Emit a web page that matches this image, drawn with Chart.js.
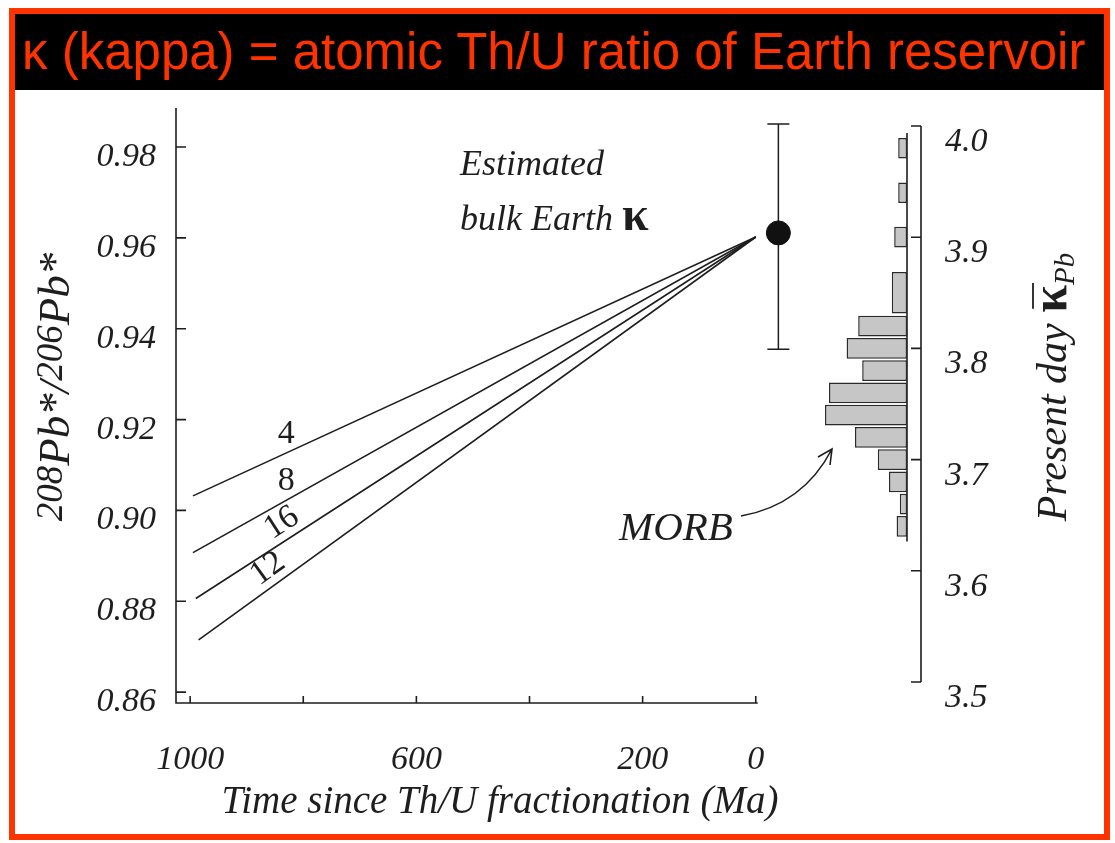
<!DOCTYPE html>
<html lang="en">
<head>
<meta charset="utf-8">
<title>kappa - atomic Th/U ratio of Earth reservoir</title>
<script src="https://cdn.jsdelivr.net/npm/chart.js@4.4.1/dist/chart.umd.min.js"></script>
<style>
  html, body { margin: 0; padding: 0; background: #fff; }
  #page { position: relative; width: 1115px; height: 843px; overflow: hidden; background: #fff; }
  #frame { position: absolute; left: 9px; top: 8px; width: 1089px; height: 820px; border: 6px solid #ff3300; }
  #header { position: absolute; left: 15px; top: 14px; width: 1089px; height: 76px; background: #000; }
  #header h1 { margin: 0; padding-left: 7px; color: #ff3300; font: normal 51px/76px 'Liberation Sans', Arial, sans-serif; white-space: nowrap; }
  canvas { position: absolute; left: 0; top: 0; }
</style>
</head>
<body>
<div id="page">
  <div id="frame"></div>
  <div id="header"><h1>κ (kappa) = atomic Th/U ratio of Earth reservoir</h1></div>
  <canvas id="mainChart" width="1115" height="843"></canvas>
  <canvas id="histChart" width="1115" height="843"></canvas>
</div>
<script>
// Pb evolution lines, one per time-integrated kappa
const lineKappa = ['4', '8', '16', '12'];
const lineStartMa = [995, 995, 990, 985];
const lineStartRatio = [0.9032, 0.8907, 0.8806, 0.8715];
const lineEndMa = [0, 0, 0, 0];
const lineEndRatio = [0.9602, 0.9602, 0.9602, 0.9602];
const lineLabelMa = [830, 830, 822, 845];
const lineLabelTilted = [false, false, true, true];

// estimated bulk Earth kappa (with error bar)
const bulkMa = [-40];
const bulkRatio = [0.9611];
const bulkLow = [0.9355];
const bulkHigh = [0.9851];

// present day MORB kappa histogram
const kappaBins = [3.98, 3.94, 3.90, 3.85, 3.82, 3.80, 3.78, 3.76, 3.74, 3.72, 3.70, 3.68, 3.66, 3.64];
const binWidth = [0.02, 0.02, 0.02, 0.04, 0.02, 0.02, 0.02, 0.02, 0.02, 0.02, 0.02, 0.02, 0.02, 0.02];
const morbCounts = [2.2, 2.2, 3.2, 3.8, 12.2, 15.1, 11.2, 19.5, 20.5, 13, 7.3, 4.5, 1.8, 2.6];

// axes
const ratioTicks = [0.86, 0.88, 0.90, 0.92, 0.94, 0.96, 0.98];
const timeTicks = [1000, 800, 600, 400, 200, 0];
const timeLabels = [1000, 600, 200, 0];
const kappaTicks = [3.5, 3.6, 3.7, 3.8, 3.9, 4.0];

const INK = '#1e1e1e';
const SERIF = "'Liberation Serif', 'DejaVu Serif', serif";

// text made of pieces with different fonts (super/subscripts)
function richWidth(ctx, parts) {
    let w = 0;
    parts.forEach(p => { ctx.font = p.font; w += ctx.measureText(p.t).width; });
    return w;
}
function drawRich(ctx, parts, x, y) {
    let cx = x;
    const pos = [];
    parts.forEach(p => {
        ctx.font = p.font;
        ctx.fillText(p.t, cx, y + (p.dy || 0));
        const w = ctx.measureText(p.t).width;
        pos.push({ x: cx, w: w });
        cx += w;
    });
    return pos;
}

const paperAxes = {
    id: 'paperAxes',
    beforeDatasetsDraw(chart) {
        const { ctx, chartArea: a, scales: { x, y } } = chart;
        ctx.save();
        ctx.strokeStyle = INK;
        ctx.lineWidth = 1.6;
        ctx.beginPath();
        ctx.moveTo(a.left, a.top);
        ctx.lineTo(a.left, a.bottom);
        ctx.lineTo(x.getPixelForValue(0) + 2, a.bottom);
        ratioTicks.forEach(v => {
            const p = y.getPixelForValue(v);
            ctx.moveTo(a.left, p);
            ctx.lineTo(a.left + 10, p);
        });
        timeTicks.forEach(v => {
            const p = x.getPixelForValue(v);
            ctx.moveTo(p, a.bottom);
            ctx.lineTo(p, a.bottom - 7);
        });
        ctx.stroke();

        // error bar behind the bulk Earth dot
        ctx.lineWidth = 1.5;
        bulkMa.forEach((m, i) => {
            const px = x.getPixelForValue(m);
            const lo = y.getPixelForValue(bulkLow[i]);
            const hi = y.getPixelForValue(bulkHigh[i]);
            ctx.beginPath();
            ctx.moveTo(px, hi); ctx.lineTo(px, lo);
            ctx.moveTo(px - 11, hi); ctx.lineTo(px + 11, hi);
            ctx.moveTo(px - 11, lo); ctx.lineTo(px + 11, lo);
            ctx.stroke();
        });
        ctx.restore();
    },
    afterDraw(chart) {
        const { ctx, scales: { x, y } } = chart;
        ctx.save();
        ctx.fillStyle = INK;
        ctx.strokeStyle = INK;

        // kappa labels sitting on the lines
        ctx.font = '34px ' + SERIF;
        ctx.textAlign = 'center';
        ctx.textBaseline = 'middle';
        lineKappa.forEach((k, i) => {
            const f = (lineLabelMa[i] - lineStartMa[i]) / (lineEndMa[i] - lineStartMa[i]);
            const v = lineStartRatio[i] + f * (lineEndRatio[i] - lineStartRatio[i]);
            const px = x.getPixelForValue(lineLabelMa[i]);
            const py = y.getPixelForValue(v);
            if (lineLabelTilted[i]) {
                const ang = Math.atan2(
                    y.getPixelForValue(lineEndRatio[i]) - y.getPixelForValue(lineStartRatio[i]),
                    x.getPixelForValue(lineEndMa[i]) - x.getPixelForValue(lineStartMa[i]));
                ctx.save();
                ctx.translate(px, py);
                ctx.rotate(ang);
                ctx.fillText(k, 0, -17);
                ctx.restore();
            } else {
                ctx.fillText(k, px, py - 19);
            }
        });

        // x axis title
        ctx.font = 'italic 39px ' + SERIF;
        ctx.fillText('Time since Th/U fractionation (Ma)', 500, 803);

        // y axis title, reads bottom to top
        ctx.textAlign = 'left';
        ctx.textBaseline = 'alphabetic';
        const yTitle = [
            { t: '208', font: 'italic 37px ' + SERIF, dy: -7 },
            { t: 'Pb*/', font: 'italic 45px ' + SERIF },
            { t: '206', font: 'italic 37px ' + SERIF, dy: -7 },
            { t: 'Pb*', font: 'italic 45px ' + SERIF }
        ];
        ctx.save();
        ctx.translate(69, 387);
        ctx.rotate(-Math.PI / 2);
        drawRich(ctx, yTitle, -richWidth(ctx, yTitle) / 2, 0);
        ctx.restore();

        // right axis title
        const rTitle = [
            { t: 'Present day ', font: 'italic 42px ' + SERIF },
            { t: 'κ', font: 'bold 50px ' + SERIF },
            { t: 'Pb', font: 'italic 29px ' + SERIF, dy: 8 }
        ];
        ctx.save();
        ctx.translate(1066, 387);
        ctx.rotate(-Math.PI / 2);
        const pos = drawRich(ctx, rTitle, -richWidth(ctx, rTitle) / 2, 0);
        ctx.lineWidth = 1.8;
        ctx.beginPath();
        ctx.moveTo(pos[1].x + 4, -33);
        ctx.lineTo(pos[1].x + pos[1].w + 2, -33);
        ctx.stroke();
        ctx.restore();

        // bulk Earth note
        ctx.font = 'italic 36px ' + SERIF;
        ctx.fillText('Estimated', 460, 175);
        drawRich(ctx, [
            { t: 'bulk Earth ', font: 'italic 36px ' + SERIF },
            { t: 'κ', font: 'bold 48px ' + SERIF }
        ], 460, 230);

        // MORB note and arrow
        ctx.font = 'italic 41px ' + SERIF;
        ctx.fillText('MORB', 619, 540);
        ctx.lineWidth = 1.6;
        ctx.beginPath();
        ctx.moveTo(741, 516);
        ctx.quadraticCurveTo(803, 505, 832, 449);
        ctx.moveTo(818, 457);
        ctx.lineTo(832, 449);
        ctx.lineTo(830, 465);
        ctx.stroke();
        ctx.restore();
    }
};

const lineSets = lineKappa.map((k, i) => ({
    type: 'line',
    label: 'kappa ' + k,
    data: [{ x: lineStartMa[i], y: lineStartRatio[i] }, { x: lineEndMa[i], y: lineEndRatio[i] }],
    borderColor: INK,
    borderWidth: 1.6,
    pointRadius: 0,
    fill: false
}));

new Chart(document.getElementById('mainChart'), {
    type: 'scatter',
    data: {
        datasets: [
            ...lineSets,
            {
                type: 'scatter',
                label: 'Estimated bulk Earth kappa',
                data: bulkMa.map((m, i) => ({ x: m, y: bulkRatio[i] })),
                pointRadius: 12,
                backgroundColor: '#111',
                borderColor: '#111'
            }
        ]
    },
    options: {
        responsive: false,
        animation: false,
        layout: { padding: { left: 0, top: 108, right: 314, bottom: 0 } },
        plugins: { legend: { display: false }, tooltip: { enabled: false } },
        scales: {
            x: {
                type: 'linear',
                reverse: true,
                min: -80,
                max: 1025,
                grid: { display: false, drawTicks: false },
                border: { display: false },
                afterBuildTicks: s => { s.ticks = timeTicks.map(v => ({ value: v })); },
                afterFit: s => { s.height = 140; },
                ticks: {
                    autoSkip: false,
                    maxRotation: 0,
                    padding: 37,
                    color: INK,
                    font: { family: SERIF, size: 34, style: 'italic' },
                    callback: v => timeLabels.includes(v) ? String(v) : ''
                }
            },
            y: {
                type: 'linear',
                min: 0.8576,
                max: 0.9886,
                grid: { display: false, drawTicks: false },
                border: { display: false },
                afterBuildTicks: s => { s.ticks = ratioTicks.map(v => ({ value: v })); },
                afterFit: s => { s.width = 176; },
                ticks: {
                    padding: 20,
                    labelOffset: 10,
                    color: INK,
                    font: { family: SERIF, size: 34, style: 'italic' },
                    callback: v => v.toFixed(2)
                }
            }
        }
    },
    plugins: [paperAxes]
});

// histogram: right axis line, inward ticks and the zero line behind the bars
const histAxes = {
    id: 'histAxes',
    beforeDatasetsDraw(chart) {
        const { ctx, chartArea: a, scales: { x, y } } = chart;
        ctx.save();
        ctx.strokeStyle = INK;
        ctx.lineWidth = 1.6;
        ctx.beginPath();
        ctx.moveTo(a.right, a.top);
        ctx.lineTo(a.right, a.bottom);
        kappaTicks.forEach(v => {
            const p = y.getPixelForValue(v);
            ctx.moveTo(a.right, p);
            ctx.lineTo(a.right - 10, p);
        });
        const x0 = x.getPixelForValue(0);
        const topK = Math.max(...kappaBins.map((k, i) => k + binWidth[i] / 2));
        const botK = Math.min(...kappaBins.map((k, i) => k - binWidth[i] / 2));
        ctx.moveTo(x0, y.getPixelForValue(topK) - 4);
        ctx.lineTo(x0, y.getPixelForValue(botK) + 4);
        ctx.stroke();
        ctx.restore();
    }
};

const widthClasses = [...new Set(binWidth)];
const minWidth = Math.min(...binWidth);
const histSets = widthClasses.map(w => ({
    label: 'MORB',
    data: kappaBins.map((k, i) => binWidth[i] === w ? { x: morbCounts[i], y: k } : null).filter(d => d),
    grouped: false,
    categoryPercentage: 1,
    barPercentage: 0.93 * w / minWidth,
    backgroundColor: '#c6c6c6',
    borderColor: '#2a2a2a',
    borderWidth: 1.5,
    borderSkipped: false
}));

new Chart(document.getElementById('histChart'), {
    type: 'bar',
    data: { datasets: histSets },
    options: {
        indexAxis: 'y',
        responsive: false,
        animation: false,
        layout: { padding: { left: 810, top: 126, right: 0, bottom: 161 } },
        plugins: { legend: { display: false }, tooltip: { enabled: false } },
        scales: {
            x: { type: 'linear', reverse: true, min: -3.5, max: 24.25, display: false },
            y: {
                type: 'linear',
                position: 'right',
                min: 3.5,
                max: 4.0,
                offset: false,
                grid: { display: false, drawTicks: false, offset: false },
                border: { display: false },
                afterBuildTicks: s => { s.ticks = kappaTicks.map(v => ({ value: v })); },
                afterFit: s => { s.width = 1115 - 921; },
                ticks: {
                    padding: 24,
                    labelOffset: 16,
                    color: INK,
                    font: { family: SERIF, size: 34, style: 'italic' },
                    callback: v => v.toFixed(1)
                }
            }
        }
    },
    plugins: [histAxes]
});
</script>
</body>
</html>
